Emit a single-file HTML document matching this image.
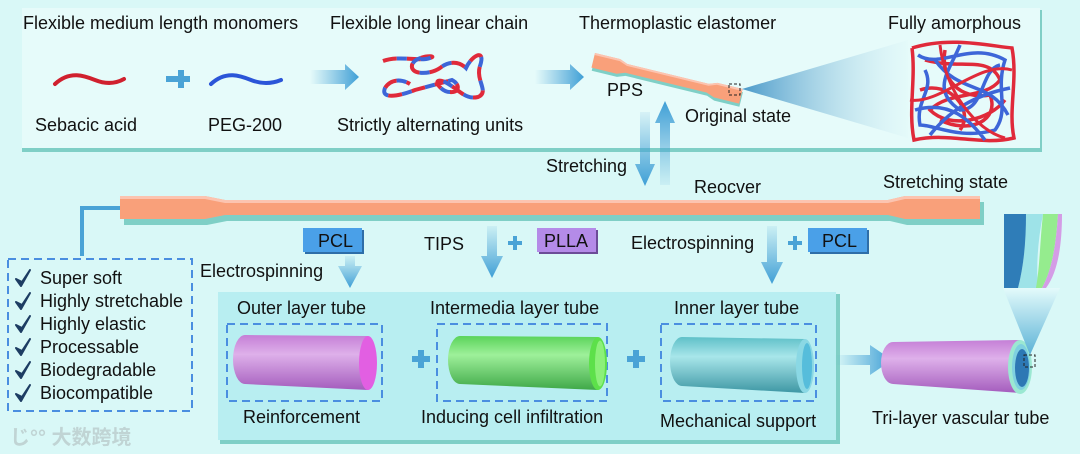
<!DOCTYPE html>
<html><head><meta charset="utf-8"><style>
html,body{margin:0;padding:0;background:#d9f8f7;}
svg{display:block;font-family:"Liberation Sans",Arial,sans-serif;}
text{fill:#111;font-size:18px;}
</style></head><body>
<svg width="1080" height="454" viewBox="0 0 1080 454" xmlns="http://www.w3.org/2000/svg">
<defs>
<linearGradient id="ar" x1="0" x2="1"><stop offset="0" stop-color="#4aa3d6" stop-opacity="0"/><stop offset="1" stop-color="#3f9fd6"/></linearGradient>
<linearGradient id="ad" x1="0" y1="0" x2="0" y2="1"><stop offset="0" stop-color="#4aa3d6" stop-opacity="0.1"/><stop offset="1" stop-color="#3f9fd6"/></linearGradient>
<linearGradient id="au" x1="0" y1="1" x2="0" y2="0"><stop offset="0" stop-color="#4aa3d6" stop-opacity="0.1"/><stop offset="1" stop-color="#3f9fd6"/></linearGradient>
<linearGradient id="cone" x1="0" x2="1"><stop offset="0" stop-color="#3a8fc4"/><stop offset="1" stop-color="#dff7f8" stop-opacity="0.3"/></linearGradient>
<linearGradient id="cone2" x1="0" y1="1" x2="0" y2="0"><stop offset="0" stop-color="#5bb2d6"/><stop offset="1" stop-color="#e4fbfb"/></linearGradient>
<linearGradient id="pur" x1="0" y1="0" x2="0" y2="1"><stop offset="0" stop-color="#c57fd6"/><stop offset="0.35" stop-color="#deb0ea"/><stop offset="1" stop-color="#a45cbd"/></linearGradient>
<linearGradient id="grn" x1="0" y1="0" x2="0" y2="1"><stop offset="0" stop-color="#5ad35a"/><stop offset="0.35" stop-color="#9ef09a"/><stop offset="1" stop-color="#3fa848"/></linearGradient>
<linearGradient id="cyn" x1="0" y1="0" x2="0" y2="1"><stop offset="0" stop-color="#5fc0c8"/><stop offset="0.35" stop-color="#a8e6ea"/><stop offset="1" stop-color="#3e97a4"/></linearGradient>
<g id="chk"><path d="M0 9 L5 16 L14 0 L6 12 Z" fill="#1d3d63" stroke="#1d3d63" stroke-width="2" stroke-linejoin="round"/></g>
</defs>

<rect x="22" y="10" width="1020" height="142" fill="#7fcfc6"/>
<rect x="22" y="8" width="1018" height="140" fill="#e6fbfa"/>

<text x="23" y="29">Flexible medium length monomers</text>
<text x="330" y="29">Flexible long linear chain</text>
<text x="579" y="29">Thermoplastic elastomer</text>
<text x="888" y="29">Fully amorphous</text>

<path d="M55 84 C70 70 85 76 95 80 C105 84 115 84 124 79" stroke="#d0202e" stroke-width="4" fill="none" stroke-linecap="round"/>
<path d="M166 76 h12 v-6 h6 v6 h6 v6 h-6 v6 h-6 v-6 h-12z" fill="#4aa3d6"/>
<path d="M211 84 C226 70 241 76 251 80 C261 84 271 84 281 80" stroke="#2b55d8" stroke-width="4" fill="none" stroke-linecap="round"/>
<path d="M310 70 h35 v-6 l14 13 l-14 13 v-6 h-35z" fill="url(#ar)"/>
<path d="M383 61 C400 55 420 62 430 58 C440 55 415 55 412 65 C410 75 430 75 440 68 C450 60 460 62 466 68 C472 55 486 48 480 66 C475 80 490 92 478 97 C465 100 460 90 445 82 C430 76 440 92 450 92 C460 93 460 84 452 80 L415 90 C400 96 380 100 385 88 C390 80 400 78 410 84" stroke="#e02a3a" stroke-width="4" fill="none" stroke-dasharray="14 10"/>
<path d="M383 61 C400 55 420 62 430 58 C440 55 415 55 412 65 C410 75 430 75 440 68 C450 60 460 62 466 68 C472 55 486 48 480 66 C475 80 490 92 478 97 C465 100 460 90 445 82 C430 76 440 92 450 92 C460 93 460 84 452 80 L415 90 C400 96 380 100 385 88 C390 80 400 78 410 84" stroke="#3d66d8" stroke-width="4" fill="none" stroke-dasharray="0 14 10 0"/>
<path d="M535 70 h35 v-6 l14 13 l-14 13 v-6 h-35z" fill="url(#ar)"/>

<text x="35" y="131">Sebacic acid</text>
<text x="208" y="131">PEG-200</text>
<text x="337" y="131">Strictly alternating units</text>

<g transform="translate(595,53) rotate(13.7)">
<path d="M0 0 H26 L34 3 H118 L126 0 H152 V15 H126 L118 12 H34 L26 15 H0Z" fill="#7fcfc6" transform="translate(1,3)"/>
<path d="M0 0 H26 L34 3 H118 L126 0 H152 V15 H126 L118 12 H34 L26 15 H0Z" fill="#f9a07a"/>
<path d="M0 0 H26 L34 3 H118 L126 0 H152 V2 H126 L118 5 H34 L26 2 H0Z" fill="#fcc4b0"/>
</g>
<rect x="729" y="84" width="11" height="11" fill="none" stroke="#222" stroke-dasharray="3 2"/>
<polygon points="742,89 908,40 908,138" fill="url(#cone)" opacity="0.9"/>
<text x="607" y="96">PPS</text>
<text x="685" y="122">Original state</text>
<g fill="none" stroke-width="3.5">
<path d="M912 48 C950 36 990 46 1012 48 C1018 80 1008 110 1014 138 C980 146 950 132 914 140 C908 110 916 80 912 48 M925 60 C960 70 990 55 1000 80 C985 100 950 90 930 110 C950 130 990 120 1005 100 M920 90 C950 80 975 110 960 130 M945 50 C940 80 960 100 990 95 C1000 120 970 135 940 120" stroke="#e02a3a"/>
<path d="M918 55 C940 70 970 40 1005 60 C995 90 1010 110 995 130 C960 140 935 125 920 125 C915 100 935 90 925 70 M935 60 C960 95 990 80 1008 115 M915 110 C950 100 970 120 985 140 M960 45 C950 70 930 90 960 110 C985 110 980 70 1000 65 M930 135 C950 110 975 95 1010 88" stroke="#3d66d8"/>
<path d="M910 100 C940 105 980 60 1012 70 M940 45 C945 90 975 130 1005 138" stroke="#e02a3a" stroke-width="3"/>
</g>

<path d="M640 112 h10 v52 h5 l-10 22 l-10 -22 h5z" fill="url(#ad)"/>
<path d="M660 185 h10 v-62 h5 l-10 -22 l-10 22 h5z" fill="url(#au)"/>
<text x="546" y="172">Stretching</text>
<text x="694" y="193">Reocver</text>
<text x="883" y="188">Stretching state</text>

<path d="M122 199 H205 L225 203 H888 L905 199 H982 V222 H905 L888 218 H225 L205 222 H122Z" fill="#7fcfc6" transform="translate(2,3)"/>
<path d="M120 196 H205 L225 200 H888 L905 196 H980 V219 H905 L888 215 H225 L205 219 H120Z" fill="#f9a07a"/>
<path d="M120 196 H205 L225 200 H888 L905 196 H980 V199 H905 L888 203 H225 L205 199 H120Z" fill="#fcc4b0"/>

<path d="M120 208 H82 V256" stroke="#4aa3d6" stroke-width="4" fill="none"/>

<rect x="8" y="259" width="184" height="152" fill="none" stroke="#4a8ee0" stroke-width="2" stroke-dasharray="8 5"/>
<g>
<use href="#chk" x="16" y="270"/><text x="40" y="284">Super soft</text>
<use href="#chk" x="16" y="293"/><text x="40" y="307">Highly stretchable</text>
<use href="#chk" x="16" y="316"/><text x="40" y="330">Highly elastic</text>
<use href="#chk" x="16" y="339"/><text x="40" y="353">Processable</text>
<use href="#chk" x="16" y="362"/><text x="40" y="376">Biodegradable</text>
<use href="#chk" x="16" y="385"/><text x="40" y="399">Biocompatible</text>
</g>
<text x="10" y="444" style="fill:#c0d4d4;font-size:20px;font-family:'Liberation Sans','Noto Sans CJK SC',sans-serif;font-weight:bold">じ°° 大数跨境</text>

<rect x="305" y="230" width="59" height="24" fill="#2e6ea8"/>
<rect x="303" y="228" width="59" height="24" fill="#4aa0e8"/>
<text x="318" y="247">PCL</text>
<text x="200" y="277">Electrospinning</text>
<path d="M345 256 h10 v10 h7 l-12 22 l-12 -22 h7z" fill="url(#ad)"/>

<text x="424" y="250">TIPS</text>
<path d="M487 226 h10 v30 h6 l-11 22 l-11 -22 h6z" fill="url(#ad)"/>
<path d="M508 241 h5 v-5 h4 v5 h5 v4 h-5 v5 h-4 v-5 h-5z" fill="#4aa3d6"/>
<rect x="539" y="230" width="59" height="24" fill="#6c4c98"/>
<rect x="537" y="228" width="59" height="24" fill="#b48be8"/>
<text x="544" y="247">PLLA</text>

<text x="631" y="249">Electrospinning</text>
<path d="M767 226 h10 v36 h6 l-11 22 l-11 -22 h6z" fill="url(#ad)"/>
<path d="M788 241 h5 v-5 h4 v5 h5 v4 h-5 v5 h-4 v-5 h-5z" fill="#4aa3d6"/>
<rect x="810" y="230" width="59" height="24" fill="#2e6ea8"/>
<rect x="808" y="228" width="59" height="24" fill="#4aa0e8"/>
<text x="822" y="247">PCL</text>

<rect x="220" y="294" width="620" height="150" fill="#7fcfc6"/>
<rect x="218" y="292" width="618" height="148" fill="#b8eef1"/>
<text x="237" y="314">Outer  layer tube</text>
<text x="430" y="314">Intermedia layer tube</text>
<text x="674" y="314">Inner layer tube</text>
<g fill="none" stroke="#4a8ee0" stroke-width="2" stroke-dasharray="8 5">
<rect x="227" y="324" width="155" height="77"/>
<rect x="437" y="324" width="170" height="77"/>
<rect x="661" y="324" width="155" height="77"/>
</g>
<path d="M245 335 L368 336 L368 390 L245 384 A12 24.5 0 0 1 245 335Z" fill="url(#pur)"/>
<ellipse cx="368" cy="363" rx="9" ry="27" fill="#e25fe2"/>
<path d="M460 336 L598 337 L598 390 L460 384 A12 24 0 0 1 460 336Z" fill="url(#grn)"/>
<ellipse cx="598" cy="363.5" rx="9" ry="26.5" fill="#5de04a"/>
<ellipse cx="600" cy="363.5" rx="5" ry="23" fill="#8cf07a"/>
<path d="M682 337 L805 339 L805 393 L682 386 A12 24.5 0 0 1 682 337Z" fill="url(#cyn)"/>
<ellipse cx="805" cy="366" rx="9" ry="27" fill="#8ad8e4"/>
<ellipse cx="807" cy="366" rx="5" ry="23" fill="#56bddb"/>
<path d="M412 356 h6 v-6 h6 v6 h6 v6 h-6 v6 h-6 v-6 h-6z" fill="#4aa3d6"/>
<path d="M627 356 h6 v-6 h6 v6 h6 v6 h-6 v6 h-6 v-6 h-6z" fill="#4aa3d6"/>
<text x="243" y="423">Reinforcement</text>
<text x="421" y="423">Inducing cell infiltration</text>
<text x="660" y="427">Mechanical support</text>

<path d="M835 355 h35 v-10 l22 15 l-22 15 v-10 h-35z" fill="url(#ar)"/>
<path d="M893 342 L1020 340 L1020 393 L893 384 A12 21 0 0 1 893 342Z" fill="url(#pur)"/>
<ellipse cx="1020" cy="367" rx="12" ry="27" fill="#9be8d2"/>
<ellipse cx="1021" cy="367" rx="9" ry="23" fill="#7fd0e0"/>
<ellipse cx="1022" cy="368" rx="7" ry="19" fill="#2d78b4"/>
<rect x="1024" y="355" width="11" height="12" fill="none" stroke="#222" stroke-dasharray="3 2"/>
<polygon points="1003,288 1060,288 1030,355" fill="url(#cone2)"/>
<path d="M1024 214 H1043 C1038 240 1036 265 1038 288 H1018 C1024 265 1026 240 1024 214Z" fill="#9ee3e8"/>
<path d="M1004 214 H1026 C1026 240 1024 265 1018 288 H1004Z" fill="#2f7db8"/>
<path d="M1043 214 H1058 C1056 245 1052 270 1042 288 H1036 C1040 265 1040 240 1043 214Z" fill="#95ec8e"/>
<path d="M1058 214 H1062 C1062 245 1058 272 1046 288 H1042 C1052 270 1056 245 1058 214Z" fill="#d49ce6"/>
<text x="872" y="424">Tri-layer vascular tube</text>
</svg>
</body></html>
